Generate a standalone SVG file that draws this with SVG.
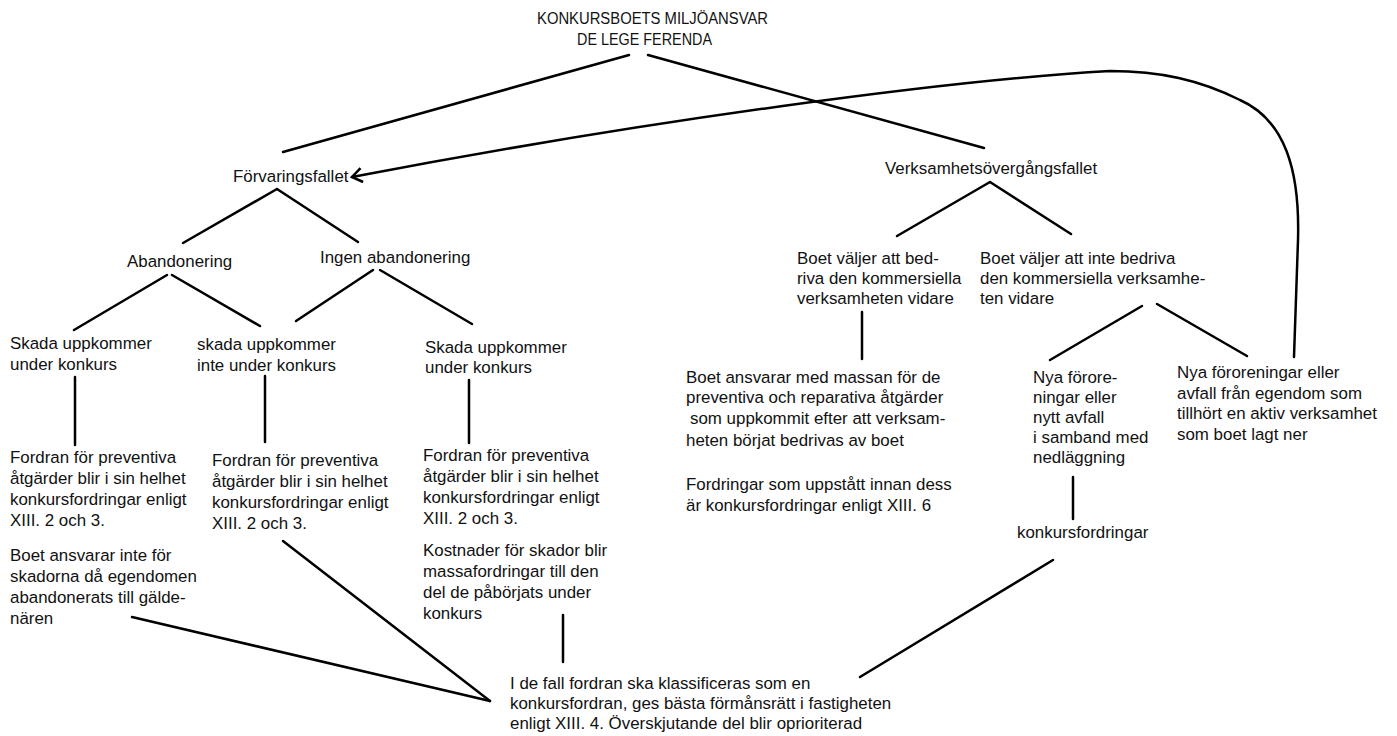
<svg xmlns="http://www.w3.org/2000/svg" width="1397" height="736" viewBox="0 0 1397 736">
<style>
text{font-family:"Liberation Sans",Arial,sans-serif;font-size:16.9px;fill:#111}
.c line,.c path{stroke:#000;stroke-width:2.5;fill:none;stroke-linecap:round}
</style>
<defs>
<marker id="ah" markerUnits="userSpaceOnUse" markerWidth="16" markerHeight="16" viewBox="-13 -8 16 16" refX="0" refY="0" orient="auto">
<path d="M-10,-7 L0,0 L-10,7" fill="none" stroke="#000" stroke-width="2.5"/>
</marker>
</defs>
<rect width="1397" height="736" fill="#fff"/>
<g class="c" id="connectors">
<line x1="629" y1="55" x2="283" y2="152"/>
<line x1="648" y1="55" x2="984" y2="148"/>
<line x1="277" y1="189" x2="183" y2="243"/>
<line x1="277" y1="189" x2="358" y2="242"/>
<line x1="167" y1="275" x2="74" y2="330"/>
<line x1="172" y1="275" x2="260" y2="326"/>
<line x1="373" y1="270" x2="296" y2="321"/>
<line x1="380" y1="270" x2="472" y2="324"/>
<line x1="75" y1="377" x2="75" y2="445"/>
<line x1="265" y1="376" x2="265" y2="442"/>
<line x1="469" y1="380" x2="469" y2="443"/>
<line x1="132" y1="617" x2="490" y2="701"/>
<line x1="283" y1="541" x2="490" y2="701"/>
<line x1="563" y1="615" x2="563" y2="662"/>
<line x1="1053" y1="560" x2="860" y2="677"/>
<line x1="990" y1="182" x2="897" y2="236"/>
<line x1="990" y1="182" x2="1071" y2="234"/>
<line x1="862" y1="312" x2="862" y2="359"/>
<line x1="1142" y1="306" x2="1050" y2="360"/>
<line x1="1157" y1="304" x2="1247" y2="356"/>
<line x1="1073" y1="477" x2="1073" y2="519"/>
<path d="M1294,357 L1298,240 C1300,170 1285,120 1240,100 C1200,80 1160,71 1110,71 C950,80 650,120 352,177" marker-end="url(#ah)"/>
</g>
<g id="title"><text x="537" y="24" textLength="231" lengthAdjust="spacingAndGlyphs">KONKURSBOETS MILJÖANSVAR</text><text x="577" y="45" textLength="135" lengthAdjust="spacingAndGlyphs">DE LEGE FERENDA</text></g>
<g id="forvaringsfallet"><text x="233" y="182">Förvaringsfallet</text></g>
<g id="abandonering"><text x="127" y="267">Abandonering</text></g>
<g id="ingen-abandonering"><text x="320" y="263">Ingen abandonering</text></g>
<g id="skada-l"><text x="10" y="349">Skada uppkommer</text><text x="10" y="370">under konkurs</text></g>
<g id="skada-m"><text x="197" y="350">skada uppkommer</text><text x="197" y="371">inte under konkurs</text></g>
<g id="skada-r"><text x="425" y="353">Skada uppkommer</text><text x="425" y="373">under konkurs</text></g>
<g id="fordran-l"><text x="10" y="463">Fordran för preventiva</text><text x="10" y="484">åtgärder blir i sin helhet</text><text x="10" y="505">konkursfordringar enligt</text><text x="10" y="526">XIII. 2 och 3.</text></g>
<g id="fordran-m"><text x="212" y="466">Fordran för preventiva</text><text x="212" y="487">åtgärder blir i sin helhet</text><text x="212" y="508">konkursfordringar enligt</text><text x="212" y="529">XIII. 2 och 3.</text></g>
<g id="fordran-r"><text x="423" y="461">Fordran för preventiva</text><text x="423" y="482">åtgärder blir i sin helhet</text><text x="423" y="503">konkursfordringar enligt</text><text x="423" y="524">XIII. 2 och 3.</text></g>
<g id="boet-ansvarar-inte"><text x="10" y="561">Boet ansvarar inte för</text><text x="10" y="582">skadorna då egendomen</text><text x="10" y="603">abandonerats till gälde-</text><text x="10" y="624">nären</text></g>
<g id="kostnader"><text x="423" y="556">Kostnader för skador blir</text><text x="423" y="577">massafordringar till den</text><text x="423" y="598">del de påbörjats under</text><text x="423" y="619">konkurs</text></g>
<g id="bottom"><text x="510" y="689">I de fall fordran ska klassificeras som en</text><text x="510" y="709">konkursfordran, ges bästa förmånsrätt i fastigheten</text><text x="510" y="729">enligt XIII. 4. Överskjutande del blir oprioriterad</text></g>
<g id="verksamhet"><text x="885" y="174">Verksamhetsövergångsfallet</text></g>
<g id="bedriva"><text x="797" y="264">Boet väljer att bed-</text><text x="797" y="284">riva den kommersiella</text><text x="797" y="304">verksamheten vidare</text></g>
<g id="inte-bedriva"><text x="980" y="264">Boet väljer att inte bedriva</text><text x="980" y="284">den kommersiella verksamhe-</text><text x="980" y="304">ten vidare</text></g>
<g id="boet-massan"><text x="686" y="383">Boet ansvarar med massan för de</text><text x="686" y="403">preventiva och reparativa åtgärder</text><text x="690" y="424">som uppkommit efter att verksam-</text><text x="686" y="446">heten börjat bedrivas av boet</text><text x="686" y="490">Fordringar som uppstått innan dess</text><text x="686" y="511">är konkursfordringar enligt XIII. 6</text></g>
<g id="nya-fororeningar"><text x="1033" y="383">Nya förore-</text><text x="1033" y="403">ningar eller</text><text x="1033" y="423">nytt avfall</text><text x="1033" y="443">i samband med</text><text x="1033" y="463">nedläggning</text></g>
<g id="nya-fororeningar-aktiv"><text x="1177" y="378">Nya föroreningar eller</text><text x="1177" y="399">avfall från egendom som</text><text x="1177" y="419">tillhört en aktiv verksamhet</text><text x="1177" y="440">som boet lagt ner</text></g>
<g id="konkursfordringar"><text x="1017" y="538">konkursfordringar</text></g>
</svg>
